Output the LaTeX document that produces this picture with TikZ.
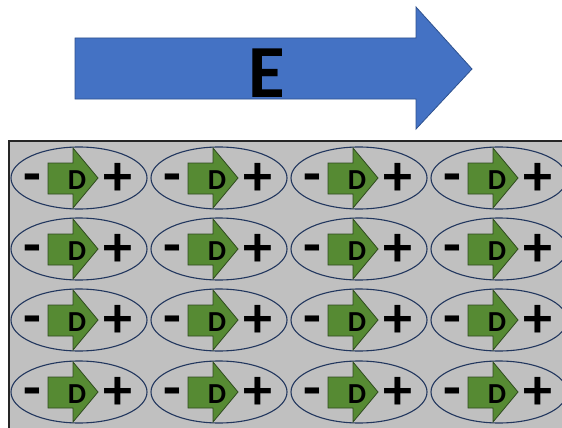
\documentclass[tikz,border=0pt]{standalone}
\usepackage{fontspec}
\setmainfont{Carlito}
\usetikzlibrary{shapes.geometric}
\definecolor{bigblue}{HTML}{4472C4}
\definecolor{bigblueline}{HTML}{2F528F}
\definecolor{panelgray}{HTML}{C0C0C0}
\definecolor{dipgreen}{HTML}{568A33}
\definecolor{dipgreenline}{HTML}{2F4A1F}
\definecolor{ringblue}{HTML}{22375E}
\tikzset{
  panel/.style={fill=panelgray, draw=none},
  panelborder/.style={draw=black!85, line width=1.2pt},
  fieldarrow/.style={fill=bigblue, draw=bigblueline, line width=0.8pt},
  ring/.style={ellipse, draw=ringblue, line width=1.1pt, minimum width=136pt, minimum height=62pt, inner sep=0pt},
  dip/.style={fill=dipgreen, draw=dipgreenline, line width=0.8pt},
  sign/.style={font=\bfseries\fontsize{58}{58}\selectfont, inner sep=0pt, anchor=base},
  dlabel/.style={font=\bfseries\fontsize{29}{29}\selectfont, inner sep=0pt},
}
\begin{document}
\begin{tikzpicture}[x=1pt, y=-1pt]
\useasboundingbox (0,0) rectangle (562,428);
\fill[white] (0,0) rectangle (562,428);
% field arrow
\draw[fieldarrow] (75,38) -- (416,38) -- (416,7) -- (472,69) -- (416,129) -- (416,99) -- (75,99) -- cycle;
\node[font=\bfseries\fontsize{75}{75}\selectfont, inner sep=0pt] (E) at (267,73) {E};
% panel
\fill[panel] (9,141) rectangle (562,428);
\draw[panelborder] (9,428) -- (9,141) -- (562,141);
% dipoles
\foreach \r/\cy in {1/178, 2/249, 3/320, 4/392} {
  \foreach \c/\cx in {1/79, 2/219, 3/359, 4/499} {
    \node[ring] (m\r\c) at (\cx,\cy) {};
    \draw[dip] (\cx-31,\cy-15) -- (\cx-6,\cy-15) -- (\cx-6,\cy-30) -- (\cx+19,\cy) -- (\cx-6,\cy+30) -- (\cx-6,\cy+16) -- (\cx-31,\cy+16) -- cycle;
    \node[dlabel] (d\r\c) at (\cx-2,\cy+2) {D};
    \node[sign] (n\r\c) at (\cx-47,\cy+15) {-};
    \node[sign] (p\r\c) at (\cx+39,\cy+17) {+};
  }
}
\end{tikzpicture}
\end{document}
